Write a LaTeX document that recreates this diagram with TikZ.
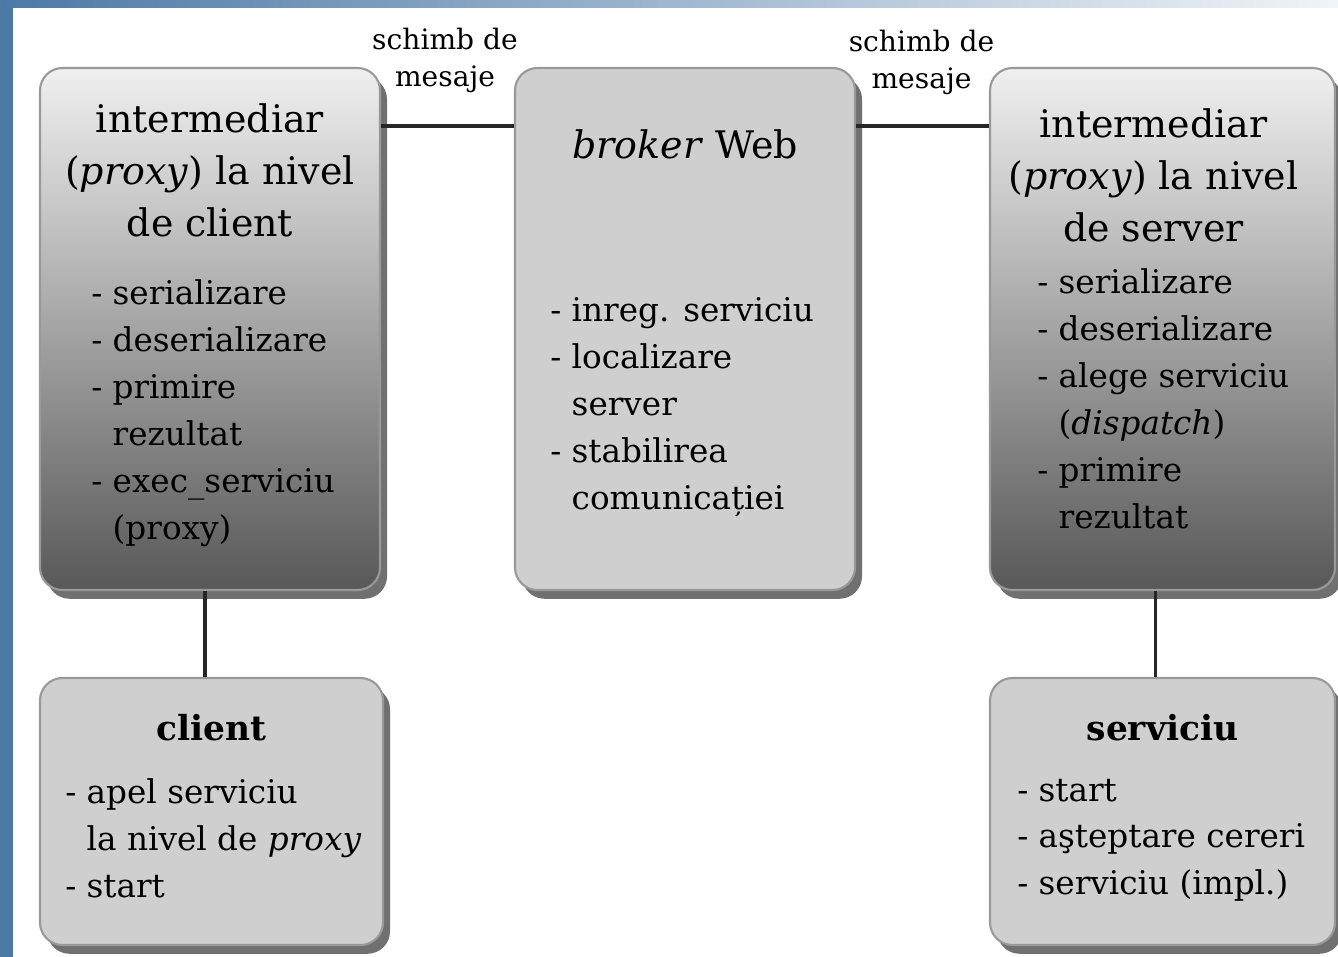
\documentclass[tikz,border=0pt]{standalone}
\usepackage{fontspec}
\setmainfont{DejaVu Serif}
\usetikzlibrary{positioning,shadows,calc}
\definecolor{FrameBlue}{RGB}{77,121,166}
\definecolor{BoxGray}{RGB}{207,207,207}
\definecolor{BoxDark}{RGB}{88,88,88}

\begin{document}
\begin{tikzpicture}[
  box/.style={rounded corners=0.45cm,draw=black!40,line width=1.2pt,
              minimum width=6.8cm,minimum height=10.44cm,inner sep=0pt,
              drop shadow={shadow xshift=4pt,shadow yshift=-5pt,
                           opacity=.75,fill=black!75}},
  shadebox/.style={box,top color=white!94!black,bottom color=BoxDark},
  flatbox/.style={box,fill=BoxGray},
  head/.style={align=center,font=\fontsize{21.6}{29.6}\selectfont,inner sep=0pt},
  bhead/.style={font=\fontsize{19.6}{27}\selectfont\bfseries,inner sep=0pt},
  items/.style={align=left,font=\fontsize{18.6}{26.7}\selectfont,inner sep=0pt},
  msg/.style={align=center,font=\fontsize{16}{21}\selectfont,inner sep=0pt},
  link/.style={line width=1.8pt,black!85},
]
\useasboundingbox (0,0) rectangle (26.76,19.14);
% frame strips
\fill[FrameBlue] (0,0) rectangle (0.26,19.14);
\shade[left color=FrameBlue,right color=FrameBlue!8] (0,18.98) rectangle (26.76,19.14);

% proxy client side
\node[shadebox] (cproxy) at (4.2,12.56) {};
\node[head,below=0.72cm of cproxy.north] (cproxyT)
  {intermediar\\(\textit{proxy}) la nivel\\de client};
\node[items,below right=4.25cm and 1.04cm of cproxy.north west] (cproxyL)
  {- serializare\\- deserializare\\- primire\\\hphantom{- }rezultat\\
   - exec\_serviciu\\\hphantom{- }(proxy)};

% broker
\node[flatbox] (broker) at (13.7,12.56) {};
\node[head,below=1.25cm of broker.north] (brokerT) {\textit{broker} Web};
\node[items,below right=4.6cm and 0.72cm of broker.north west] (brokerL)
  {- inreg. serviciu\\- localizare\\\hphantom{- }server\\- stabilirea\\
   \hphantom{- }comunicației};

% proxy server side
\node[shadebox,minimum width=6.9cm] (sproxy) at (23.25,12.56) {};
\node[head,below=0.83cm of sproxy.north,xshift=-0.18cm] (sproxyT)
  {intermediar\\(\textit{proxy}) la nivel\\de server};
\node[items,below right=4.03cm and 0.96cm of sproxy.north west] (sproxyL)
  {- serializare\\- deserializare\\- alege serviciu\\\hphantom{- }(\textit{dispatch})\\
   - primire\\\hphantom{- }rezultat};

% client
\node[flatbox,minimum width=6.86cm,minimum height=5.34cm] (client) at (4.23,2.91) {};
\node[bhead,below=0.75cm of client.north] (clientT) {client};
\node[items,below right=2.03cm and 0.52cm of client.north west] (clientL)
  {- apel serviciu\\\hphantom{- }la nivel de \textit{proxy}\\- start};

% serviciu
\node[flatbox,minimum width=6.9cm,minimum height=5.34cm] (service) at (23.25,2.91) {};
\node[bhead,below=0.74cm of service.north] (serviceT) {serviciu};
\node[items,below right=2.03cm and 0.56cm of service.north west] (serviceL)
  {- start\\- aşteptare cereri\\- serviciu (impl.)};

% message exchange
\node[msg] (msgL) at (8.9,17.93) {schimb de\\mesaje};
\node[msg] (msgR) at (18.43,17.89) {schimb de\\mesaje};
\draw[link] ([yshift=-1.18cm]cproxy.north east) -- ([yshift=-1.18cm]broker.north west);
\draw[link] ([yshift=-1.18cm]broker.north east) -- ([yshift=-1.18cm]sproxy.north west);
\draw[link] ([xshift=-0.1cm]cproxy.south) -- ([xshift=-0.1cm]cproxy.south |- client.north);
\draw[link] ([xshift=-0.14cm]sproxy.south) -- ([xshift=-0.14cm]service.north);
\end{tikzpicture}
\end{document}
